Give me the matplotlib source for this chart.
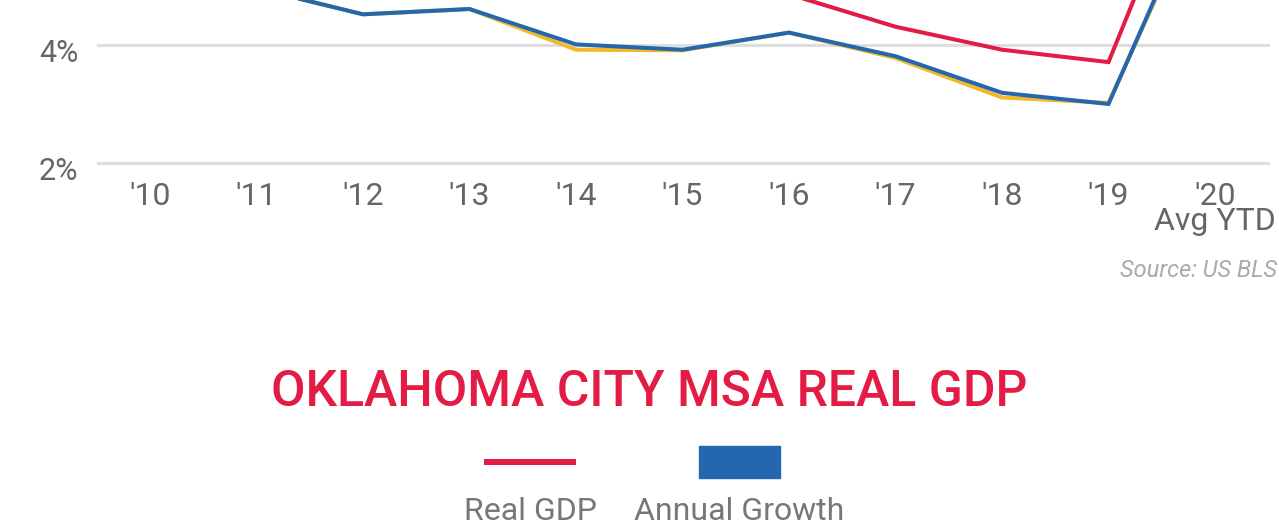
import matplotlib
matplotlib.use("Agg")
import matplotlib.pyplot as plt
import matplotlib.transforms as mtransforms
from matplotlib.lines import Line2D
from matplotlib.patches import Rectangle

plt.rcParams['font.family'] = ['Roboto', 'DejaVu Sans']

# ---- data ----
years = ["'10", "'11", "'12", "'13", "'14", "'15", "'16", "'17", "'18", "'19", "'20\nAvg YTD"]
real_gdp = [6.1, 5.2, 5.4, 5.6, 5.3, 5.0, 4.86, 4.31, 3.92, 3.71, 8.15]
annual_growth = [5.6, 4.96, 4.52, 4.61, 4.01, 3.92, 4.21, 3.81, 3.19, 3.00, 7.1]
us_series = [5.6, 4.96, 4.52, 4.61, 3.92, 3.91, 4.21, 3.78, 3.11, 3.02, 7.0]
yticks = [2, 4]
ytick_labels = ["2%", "4%"]

RED = "#E31B45"
BLUE = "#2567AE"
YELLOW = "#F2B928"
GRAY = "#666666"

W, H = 1279, 530
fig = plt.figure(figsize=(W / 100, H / 100), dpi=100)

# axes: bottom at 2% gridline (y=163px), 59px per percent; top extends beyond figure
ymin, ymax = 2, 10
px_per = 59.0
bottom_px = 163
top_px = bottom_px - (ymax - ymin) * px_per
left_px, right_px = 98, 1268
ax = fig.add_axes([left_px / W, 1 - bottom_px / H, (right_px - left_px) / W,
                   (bottom_px - top_px) / H])
ax.set_ylim(ymin, ymax)
x = list(range(len(years)))
step = 106.5
ax.set_xlim((left_px - 150) / step, (right_px - 150) / step)

for yv in yticks:
    ax.axhline(yv, color="#dedede", lw=2.2, zorder=1, clip_on=False)

ax.plot(x, us_series, color=YELLOW, lw=2.9, zorder=2, solid_joinstyle='miter')
ax.plot(x, annual_growth, color=BLUE, lw=2.9, zorder=3, solid_joinstyle='miter')
ax.plot(x, real_gdp, color=RED, lw=2.9, zorder=4, solid_joinstyle='miter')

for s in ax.spines.values():
    s.set_visible(False)
ax.set_xticks(x)
ax.set_xticklabels(years, fontsize=23, color=GRAY, linespacing=0.82,
                   multialignment='center')
ax.set_yticks(yticks)
ax.set_yticklabels(ytick_labels, fontsize=22, color=GRAY)
ax.tick_params(axis='x', length=0, pad=13.5)
ax.tick_params(axis='y', length=0, pad=14)
offset = mtransforms.ScaledTranslation(0, -6 / 100, fig.dpi_scale_trans)
for lab in ax.get_yticklabels():
    lab.set_transform(lab.get_transform() + offset)
ax.set_facecolor('none')

fig.text(1277 / W, 1 - 277 / H, "Source: US BLS", ha='right', va='baseline',
         fontsize=17, style='italic', color="#aaaaaa")

fig.text(649 / W, 1 - 406 / H, "OKLAHOMA CITY MSA REAL GDP", ha='center',
         va='baseline', fontsize=36, color=RED, fontweight='medium')

# legend
fig.add_artist(Line2D([487 / W, 573 / W], [1 - 462 / H, 1 - 462 / H],
                      color=RED, lw=4.3, transform=fig.transFigure))
fig.add_artist(Rectangle((699 / W, 1 - 478 / H), 81 / W, 32 / H,
                         color=BLUE, transform=fig.transFigure))
fig.text(530 / W, 1 - 520 / H, "Real GDP", ha='center', va='baseline',
         fontsize=23, color="#777777")
fig.text(739 / W, 1 - 520 / H, "Annual Growth", ha='center', va='baseline',
         fontsize=23, color="#777777")

fig.savefig("out.png", dpi=100)
